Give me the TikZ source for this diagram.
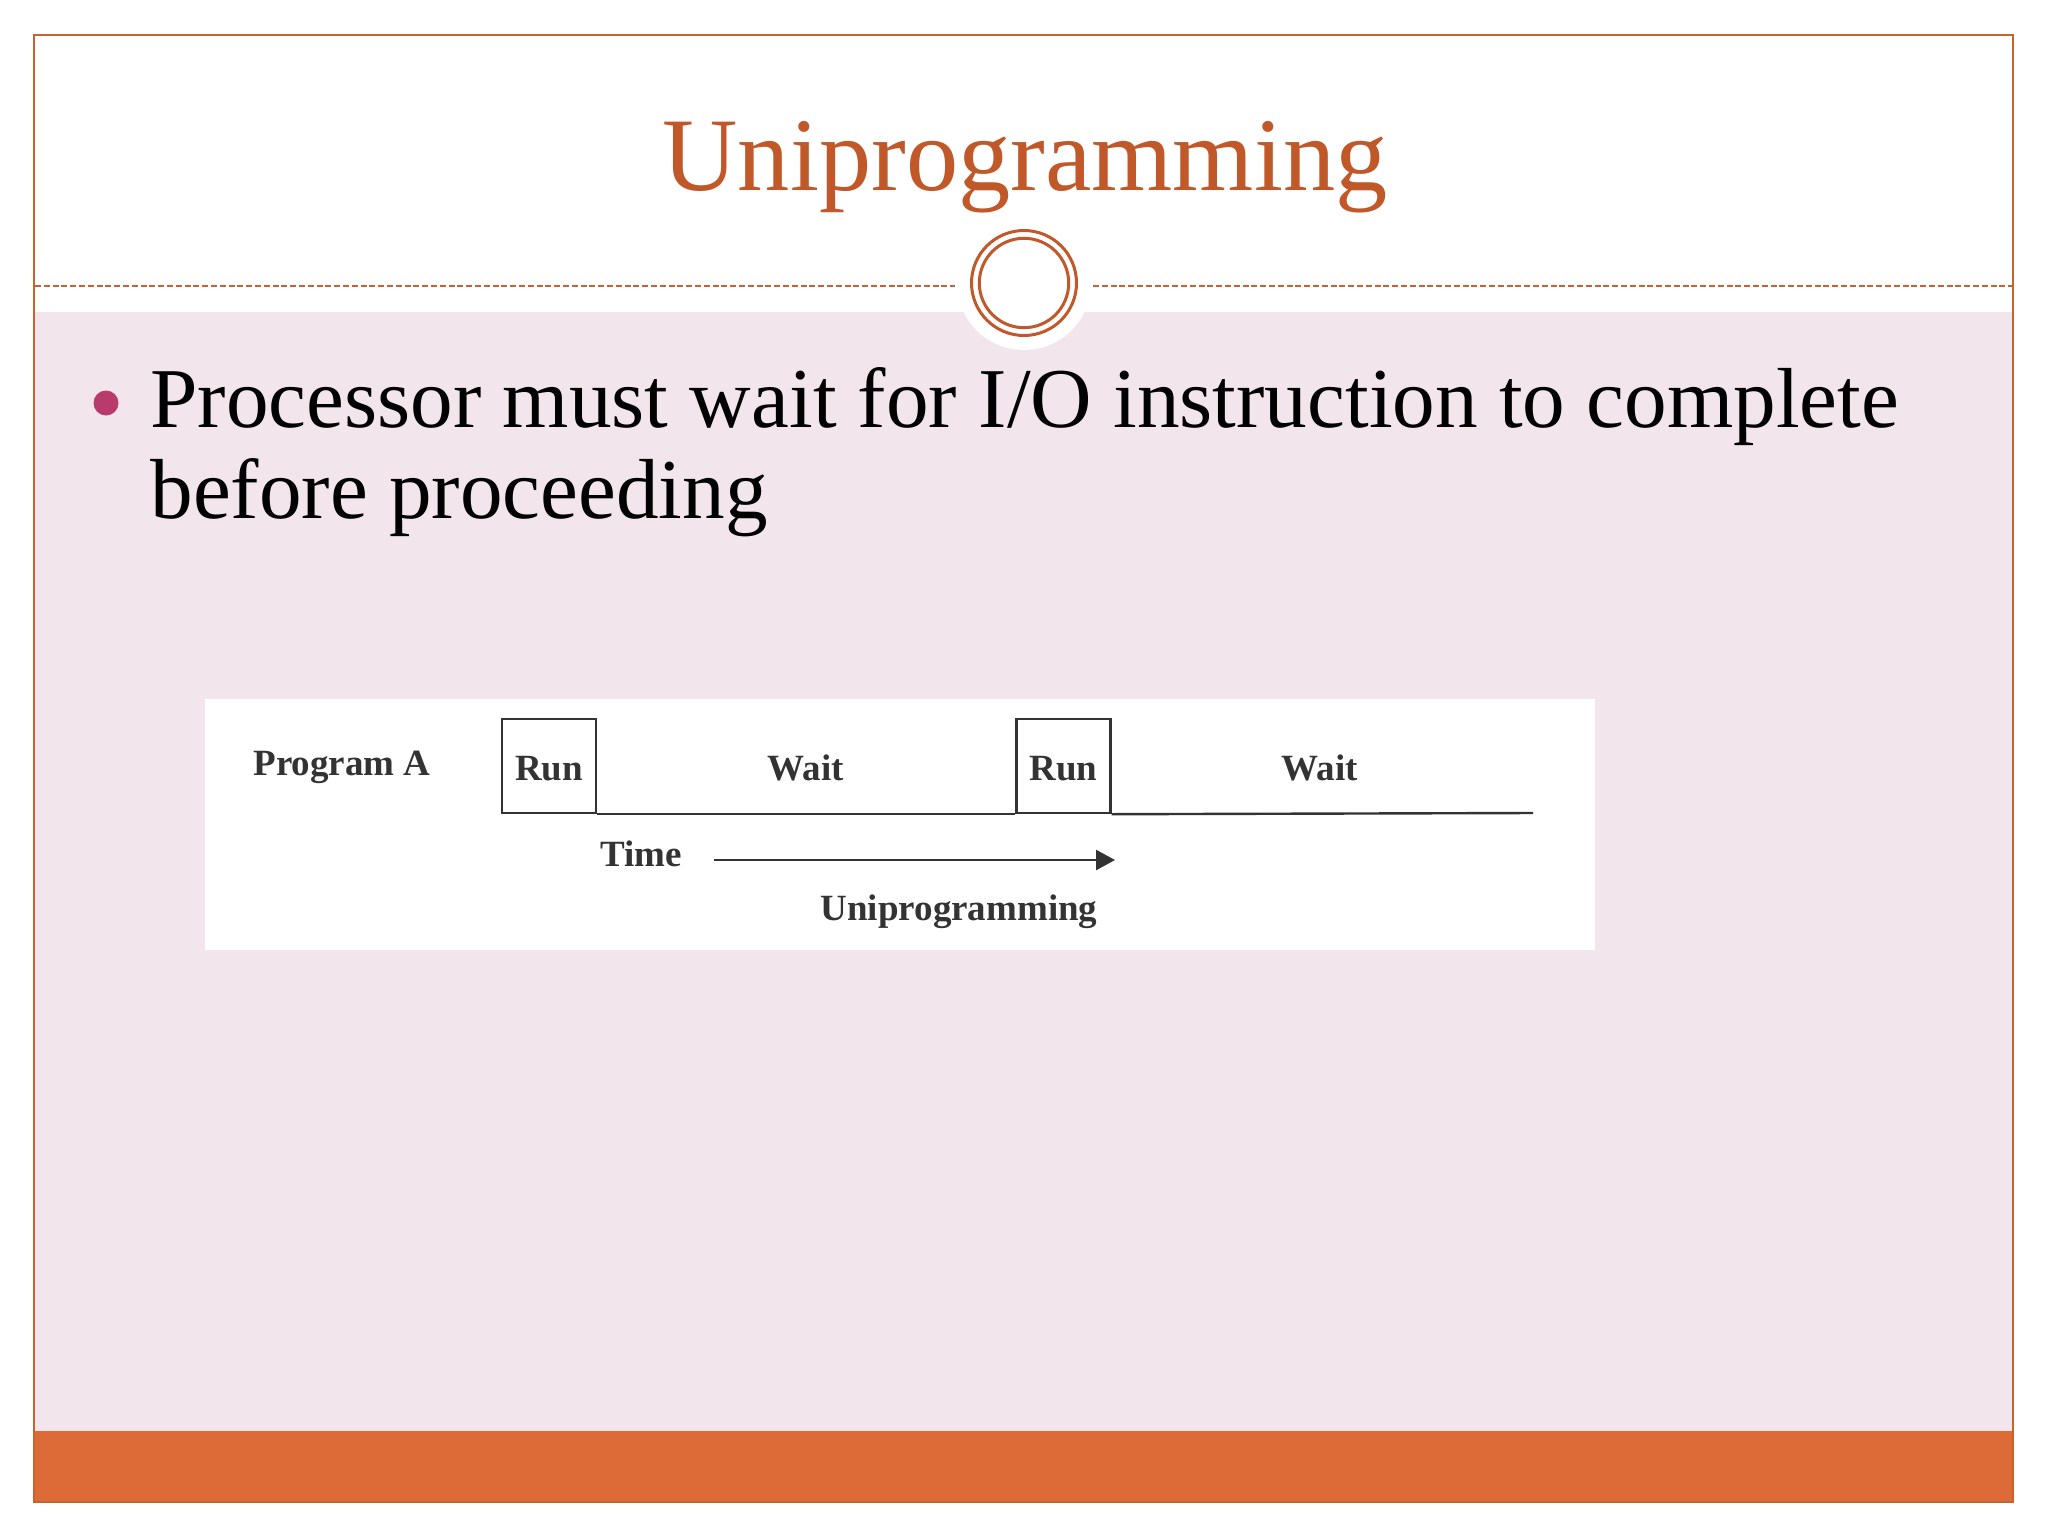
\documentclass[tikz,border=0pt]{standalone}
\usepackage{fontspec}
\setmainfont{Liberation Serif}
\usetikzlibrary{arrows.meta}
\definecolor{framec}{HTML}{C8622F}
\definecolor{titlec}{HTML}{C0582A}
\definecolor{pinkbg}{HTML}{F2E6EC}
\definecolor{barc}{HTML}{DD6B38}
\definecolor{bulletc}{HTML}{B83C6B}
\definecolor{diag}{HTML}{333333}
\tikzset{
  dtext/.style={font=\fontsize{18.5}{21}\selectfont\bfseries, text=diag, inner sep=0pt},
  runbox/.style={draw=diag, line width=1.2pt, minimum width=47pt, minimum height=47pt, inner sep=0pt},
  tline/.style={draw=diag, line width=1.2pt},
  body/.style={font=\fontsize{42.6}{46}\selectfont, text=black, inner sep=0pt, anchor=base west},
  ring/.style={circle, draw=titlec, line width=1.5pt, inner sep=0pt},
}
\begin{document}
\begin{tikzpicture}[x=0.5pt, y=-0.5pt]
\useasboundingbox (0,0) rectangle (2048,1536);
\fill[white] (0,0) rectangle (2048,1536);
% pink content area
\fill[pinkbg] (35,312) rectangle (2013,1431);
% white notch behind circle
\fill[white] (1024,283) circle (67);
% orange bottom bar
\fill[barc] (35,1431) rectangle (2013,1502);
% frame
\draw[framec, line width=0.8pt] (34,35) rectangle (2013,1502);
% dashed rule
\coordinate (dl1) at (35,286);
\coordinate (dl2) at (955,286);
\coordinate (dr1) at (1093,286);
\coordinate (dr2) at (2012,286);
\draw[framec, line width=0.75pt, dash pattern=on 3pt off 1.4pt] (dl1) -- (dl2);
\draw[framec, line width=0.75pt, dash pattern=on 3pt off 1.4pt] (dr1) -- (dr2);
% double circle
\node[ring, minimum size=52.5pt] (outerc) at (1024,283) {};
\node[ring, minimum size=44.7pt] (innerc) at (1024,283) {};
% title
\node[font=\fontsize{52.2}{56}\selectfont, text=titlec, inner sep=0pt, anchor=base] (title) at (1025,190) {Uniprogramming};
% bullet
\fill[bulletc] (106,403) circle (12.5);
\node[body] (line1) at (150,427) {Processor must wait for I/O instruction to complete};
\node[body] (line2) at (150,518) {before proceeding};
% diagram panel
\fill[white] (205,699) rectangle (1595,950);
\node[dtext, anchor=base west] (prog) at (253,775) {Program A};
\node[runbox] (run1) at (549,766) {};
\node[runbox] (run2) at (1063.5,766) {};
\node[dtext, anchor=base] (run1t) at (549,780) {Run};
\node[dtext, anchor=base] (run2t) at (1063.5,780) {Run};
\node[dtext, anchor=base] (wait1) at (806,780) {Wait};
\node[dtext, anchor=base] (wait2) at (1320,780) {Wait};
\coordinate (tend) at (1533,813);
\draw[tline] (run1.south east) -- (run2.south west);
\draw[tline] (run2.south east) -- (tend);
\node[dtext, anchor=base west] (time) at (600,866) {Time};
\coordinate (a1) at (714,860);
\coordinate (a2) at (1115,860);
\draw[tline, -{Triangle[length=9.5pt, width=10pt]}] (a1) -- (a2);
\node[dtext, anchor=base] (cap) at (959,920) {Uniprogramming};
\end{tikzpicture}
\end{document}
